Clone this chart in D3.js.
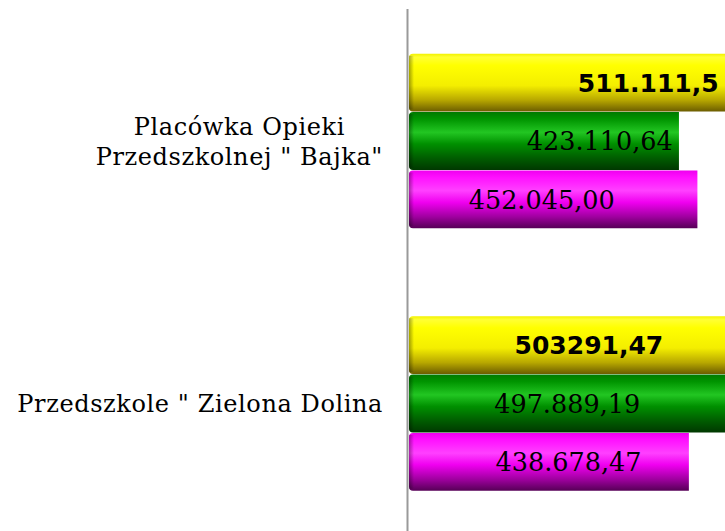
<!DOCTYPE html>
<html>
<head>
<meta charset="utf-8">
<script src="https://cdn.jsdelivr.net/npm/d3@7"></script>
<style>
  html, body { margin: 0; padding: 0; background: #fff; }
  svg { display: block; }
</style>
</head>
<body>
<svg id="chart" width="725" height="531"></svg>
<script>
// Data
const categories = ['Placówka Opieki\nPrzedszkolnej " Bajka"', 'Przedszkole " Zielona Dolina'];
const seriesKeys = ['s1', 's2', 's3'];
const values = {
  s1: [511111.5, 503291.47],
  s2: [423110.64, 497889.19],
  s3: [452045.00, 438678.47]
};
const valueLabels = {
  s1: ['511.111,5', '503291,47'],
  s2: ['423.110,64', '497.889,19'],
  s3: ['452.045,00', '438.678,47']
};
// where each label's centre sits, in data units (as placed in the original)
const labelCenters = {
  s1: [375000, 282000],
  s2: [299000, 248000],
  s3: [208000, 250000]
};

const W = 725, H = 531;
const x0 = 409;
const svg = d3.select('#chart');

const x = d3.scaleLinear().domain([0, 100000]).range([x0, x0 + 63.8]);
const y = d3.scaleBand().domain(categories).range([10, 535])
  .paddingInner(1 / 3).paddingOuter(1 / 6);
const ySub = d3.scaleBand().domain(seriesKeys).range([0, y.bandwidth()]);

// Cylinder-ish vertical gradients
const grads = {
  s1: [[0, '#f2f200'], [0.06, '#ffff33'], [0.2, '#ffff00'], [0.55, '#f4ee00'], [0.8, '#b8a800'], [1, '#6b5c00']],
  s2: [[0, '#007a00'], [0.12, '#009400'], [0.35, '#22c622'], [0.55, '#009000'], [0.8, '#005c00'], [1, '#003800']],
  s3: [[0, '#ee00ee'], [0.12, '#ff10ff'], [0.35, '#ff40ff'], [0.55, '#f000f0'], [0.8, '#a000a0'], [1, '#560056']]
};
const defs = svg.append('defs');
seriesKeys.forEach(k => {
  const g = defs.append('linearGradient').attr('id', 'g-' + k)
    .attr('x1', 0).attr('y1', 0).attr('x2', 0).attr('y2', 1);
  grads[k].forEach(([o, c]) => g.append('stop').attr('offset', o).attr('stop-color', c));
});
const edge = defs.append('linearGradient').attr('id', 'edge')
  .attr('x1', 0).attr('y1', 0).attr('x2', 1).attr('y2', 0);
edge.append('stop').attr('offset', 0).attr('stop-color', '#000').attr('stop-opacity', 0.35);
edge.append('stop').attr('offset', 1).attr('stop-color', '#000').attr('stop-opacity', 0);

// bar path, rounded on the left end only
function barPath(xs, ys, w, h, r) {
  return `M${xs + r},${ys}H${xs + w}V${ys + h}H${xs + r}` +
    `Q${xs},${ys + h} ${xs},${ys + h - r}V${ys + r}Q${xs},${ys} ${xs + r},${ys}Z`;
}

const groups = svg.append('g').selectAll('g')
  .data(categories)
  .join('g')
  .attr('transform', d => `translate(0,${y(d)})`);

groups.each(function (cat, ci) {
  const g = d3.select(this);
  seriesKeys.forEach(k => {
    const ys = ySub(k);
    const w = x(values[k][ci]) - x0;
    const h = ySub.bandwidth() - 0.5;
    g.append('path')
      .attr('d', barPath(x0, ys, w, h, 4))
      .attr('fill', `url(#g-${k})`);
    g.append('rect')
      .attr('x', x0).attr('y', ys + 2)
      .attr('width', 5).attr('height', h - 4)
      .attr('fill', 'url(#edge)');
    const bold = k === 's1';
    g.append('text')
      .attr('x', x(labelCenters[k][ci]))
      .attr('y', ys + h / 2)
      .attr('dy', '0.36em')
      .attr('text-anchor', 'middle')
      .style('font-family', bold ? '"DejaVu Sans", Verdana, sans-serif' : '"DejaVu Serif", serif')
      .style('font-weight', bold ? 'bold' : 'normal')
      .style('font-size', bold ? '25px' : '25.5px')
      .attr('fill', '#000')
      .text(valueLabels[k][ci]);
  });
});

// axis line
svg.append('line')
  .attr('x1', 407.5).attr('x2', 407.5)
  .attr('y1', 9).attr('y2', H)
  .attr('stroke', '#9a9a9a').attr('stroke-width', 2);

// category labels: right-aligned block, lines centred inside it
const labelRight = 383;
categories.forEach(cat => {
  const lines = cat.split('\n');
  const t = svg.append('text')
    .style('font-family', '"DejaVu Serif", serif')
    .style('font-size', '24px')
    .style('letter-spacing', '0.6px')
    .attr('fill', '#000');
  const spans = lines.map(l => t.append('tspan').text(l));
  const widths = spans.map(s => s.node().getComputedTextLength());
  const maxW = d3.max(widths);
  const cx = labelRight - maxW / 2;
  const cy = y(cat) + y.bandwidth() / 2;
  const lh = 30;
  spans.forEach((s, i) => {
    s.attr('x', cx).attr('text-anchor', 'middle')
      .attr('y', cy + (i - (lines.length - 1) / 2) * lh)
      .attr('dy', '0.36em');
  });
});
</script>
</body>
</html>
